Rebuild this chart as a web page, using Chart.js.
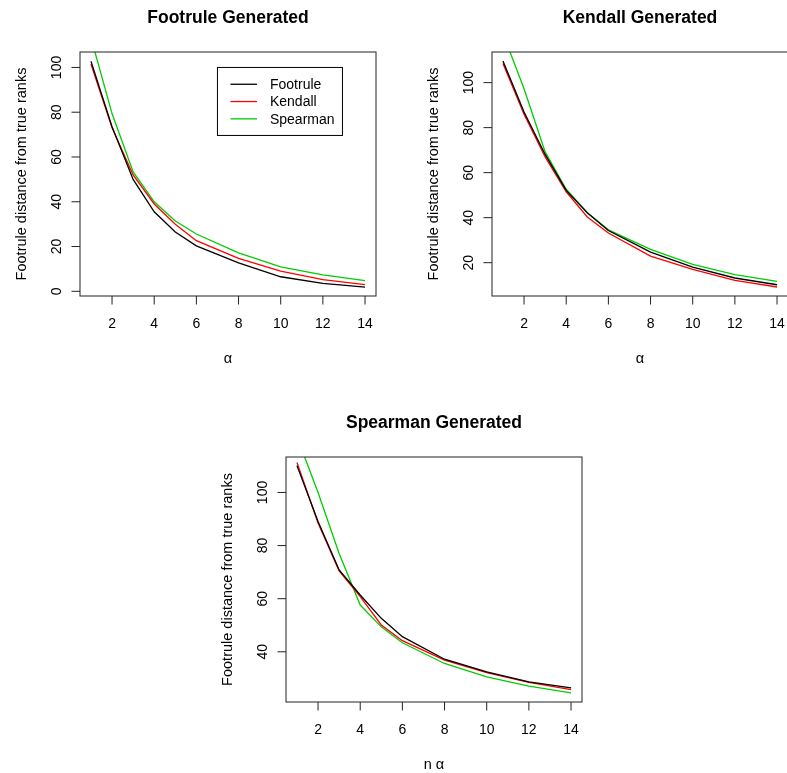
<!DOCTYPE html>
<html>
<head>
<meta charset="utf-8">
<script src="https://cdn.jsdelivr.net/npm/chart.js@4.4.0/dist/chart.umd.min.js"></script>
<style>
  body { margin: 0; width: 787px; height: 773px; overflow: hidden; background: #fff; position: relative; }
  canvas { position: absolute; }
</style>
</head>
<body>
<canvas id="graficoFootrule" width="393" height="386" style="left:0;top:0"></canvas>
<canvas id="graficoKendall" width="400" height="386" style="left:400px;top:0"></canvas>
<canvas id="graficoSpearman" width="400" height="387" style="left:196px;top:386px"></canvas>
<script>
// Valores de alpha usados nas simulações
const alpha = [1, 2, 3, 4, 5, 6, 8, 10, 12, 14];
const xTicks = [2, 4, 6, 8, 10, 12, 14];
const nomesMetodos = ["Footrule", "Kendall", "Spearman"];

// Rankings gerados pelo modelo Footrule
const fgFootrule = [102.8, 73.5, 50.0, 35.5, 26.5, 20.3, 12.7, 6.5, 3.5, 1.9];
const fgKendall  = [101.5, 73.0, 52.0, 39.0, 30.0, 22.6, 14.7, 9.0, 5.2, 3.0];
const fgSpearman = [113.3, 79.4, 53.3, 40.0, 31.4, 25.6, 17.2, 10.9, 7.3, 4.8];
const fgYTicks = [0, 20, 40, 60, 80, 100];

// Rankings gerados pelo modelo Kendall
const kgFootrule = [109.6, 86.9, 68.1, 52.1, 42.2, 34.3, 24.7, 18.0, 13.2, 10.2];
const kgKendall  = [108.5, 86.0, 67.0, 51.5, 40.3, 33.2, 22.9, 17.0, 12.1, 9.2];
const kgSpearman = [121.8, 97.3, 69.2, 52.6, 42.2, 34.6, 25.9, 19.3, 14.7, 11.7];
const kgYTicks = [20, 40, 60, 80, 100];

// Rankings gerados pelo modelo Spearman
const sgFootrule = [110.1, 89.1, 70.8, 61.4, 52.6, 45.7, 37.2, 32.4, 28.7, 26.4];
const sgKendall  = [111.3, 88.5, 70.5, 60.8, 50.1, 44.2, 36.9, 32.2, 28.5, 25.8];
const sgSpearman = [121.0, 100.0, 77.0, 57.6, 49.4, 43.4, 35.6, 30.6, 27.1, 24.5];
const sgYTicks = [40, 60, 80, 100];

const cores = ["#000000", "#FF0000", "#00CD00"];
const FONTE = '"Liberation Sans", Arial, sans-serif';

// Desenha caixa, eixos, títulos e legenda no estilo dos gráficos do R
function eixosEstiloR(cfg) {
  return {
    id: "eixosEstiloR",
    afterDraw(chart) {
      const { ctx, chartArea: a, scales: { x, y } } = chart;
      ctx.save();
      ctx.strokeStyle = "#222";
      ctx.fillStyle = "#000";
      ctx.lineWidth = 1;

      ctx.strokeRect(a.left, a.top, a.right - a.left, a.bottom - a.top);

      ctx.font = `14px ${FONTE}`;
      ctx.textAlign = "center";
      ctx.textBaseline = "alphabetic";
      xTicks.forEach(v => {
        const px = x.getPixelForValue(v);
        ctx.beginPath();
        ctx.moveTo(px, a.bottom);
        ctx.lineTo(px, a.bottom + 8.5);
        ctx.stroke();
        ctx.fillText(String(v), px, a.bottom + 31.5);
      });

      cfg.yTicks.forEach(v => {
        const py = y.getPixelForValue(v);
        ctx.beginPath();
        ctx.moveTo(a.left - 8.5, py);
        ctx.lineTo(a.left, py);
        ctx.stroke();
        ctx.save();
        ctx.translate(a.left - 19.5, py);
        ctx.rotate(-Math.PI / 2);
        ctx.fillText(String(v), 0, 0);
        ctx.restore();
      });

      const cx = (a.left + a.right) / 2;
      ctx.font = `14.5px ${FONTE}`;
      ctx.fillText(cfg.xLabel, cx, a.bottom + 66.5);

      ctx.save();
      ctx.translate(a.left - 54, (a.top + a.bottom) / 2);
      ctx.rotate(-Math.PI / 2);
      ctx.fillText("Footrule distance from true ranks", 0, 0);
      ctx.restore();

      ctx.font = `bold 17.5px ${FONTE}`;
      ctx.fillText(cfg.titulo, cx, a.top - 29);

      if (cfg.legenda) {
        const lx = x.getPixelForValue(cfg.legenda.x);
        const ly = y.getPixelForValue(cfg.legenda.y);
        ctx.strokeStyle = "#000";
        ctx.strokeRect(lx, ly, 125, 68);
        ctx.font = `14px ${FONTE}`;
        ctx.textAlign = "left";
        ctx.textBaseline = "middle";
        nomesMetodos.forEach((nome, i) => {
          const ry = ly + 16.8 + i * 17.3;
          ctx.strokeStyle = cores[i];
          ctx.lineWidth = 1.3;
          ctx.beginPath();
          ctx.moveTo(lx + 13, ry);
          ctx.lineTo(lx + 39.5, ry);
          ctx.stroke();
          ctx.fillText(nome, lx + 52.5, ry + 1);
        });
      }
      ctx.restore();
    }
  };
}

function criarGrafico(id, series, cfg) {
  const ctx = document.getElementById(id).getContext("2d");
  return new Chart(ctx, {
    type: "line",
    data: {
      datasets: series.map((valores, i) => ({
        label: nomesMetodos[i],
        data: alpha.map((a, j) => ({ x: a, y: valores[j] })),
        borderColor: cores[i],
        borderWidth: 1.3,
        pointRadius: 0,
        tension: 0,
        fill: false
      }))
    },
    options: {
      responsive: false,
      animation: false,
      devicePixelRatio: 1,
      layout: { padding: cfg.padding },
      scales: {
        x: { type: "linear", min: 0.48, max: 14.52, display: false },
        y: { type: "linear", min: cfg.yMin, max: cfg.yMax, display: false }
      },
      plugins: { legend: { display: false }, tooltip: { enabled: false } }
    },
    plugins: [eixosEstiloR(cfg)]
  });
}

criarGrafico("graficoFootrule", [fgFootrule, fgKendall, fgSpearman], {
  titulo: "Footrule Generated",
  xLabel: "α",
  yTicks: fgYTicks,
  yMin: -2.1, yMax: 106.9,
  padding: { left: 80, top: 52, right: 17, bottom: 90 },
  legenda: { x: 7, y: 100 }
});

criarGrafico("graficoKendall", [kgFootrule, kgKendall, kgSpearman], {
  titulo: "Kendall Generated",
  xLabel: "α",
  yTicks: kgYTicks,
  yMin: 5.2, yMax: 113.6,
  padding: { left: 92, top: 52, right: 12, bottom: 90 }
});

criarGrafico("graficoSpearman", [sgFootrule, sgKendall, sgSpearman], {
  titulo: "Spearman Generated",
  xLabel: "n α",
  yTicks: sgYTicks,
  yMin: 21.1, yMax: 113.35,
  padding: { left: 90, top: 71, right: 14, bottom: 71 }
});
</script>
</body>
</html>
